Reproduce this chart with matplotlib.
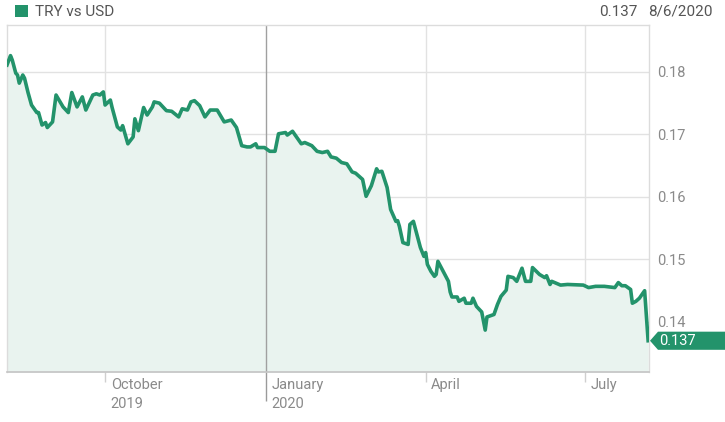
import matplotlib
matplotlib.use("Agg")
import matplotlib.pyplot as plt
import matplotlib.transforms as mtrans
from matplotlib.patches import Rectangle, Polygon
import pandas as pd

# TRY vs USD
dates = [
    "2019-08-06", "2019-08-08", "2019-08-09", "2019-08-11", "2019-08-12", "2019-08-13",
    "2019-08-15", "2019-08-16", "2019-08-18", "2019-08-20", "2019-08-21", "2019-08-23",
    "2019-08-24", "2019-08-26", "2019-08-28", "2019-08-29", "2019-09-01", "2019-09-03",
    "2019-09-07", "2019-09-10", "2019-09-12", "2019-09-15", "2019-09-18", "2019-09-20",
    "2019-09-24", "2019-09-26", "2019-09-28", "2019-09-30", "2019-10-01", "2019-10-04",
    "2019-10-05", "2019-10-08", "2019-10-10", "2019-10-11", "2019-10-14", "2019-10-17",
    "2019-10-18", "2019-10-20", "2019-10-23", "2019-10-25", "2019-10-28", "2019-10-29",
    "2019-11-01", "2019-11-05", "2019-11-08", "2019-11-12", "2019-11-14", "2019-11-17",
    "2019-11-19", "2019-11-21", "2019-11-24", "2019-11-27", "2019-11-30", "2019-12-04",
    "2019-12-08", "2019-12-12", "2019-12-15", "2019-12-18", "2019-12-21", "2019-12-23",
    "2019-12-26", "2019-12-27", "2019-12-31", "2020-01-03", "2020-01-06", "2020-01-08",
    "2020-01-12", "2020-01-13", "2020-01-16", "2020-01-21", "2020-01-23", "2020-01-27",
    "2020-01-30", "2020-02-02", "2020-02-05", "2020-02-07", "2020-02-10", "2020-02-13",
    "2020-02-16", "2020-02-19", "2020-02-21", "2020-02-25", "2020-02-27", "2020-03-01",
    "2020-03-04", "2020-03-05", "2020-03-07", "2020-03-10", "2020-03-12", "2020-03-15",
    "2020-03-16", "2020-03-17", "2020-03-19", "2020-03-22", "2020-03-23", "2020-03-25",
    "2020-03-29", "2020-03-31", "2020-04-01", "2020-04-02", "2020-04-04", "2020-04-06",
    "2020-04-07", "2020-04-08", "2020-04-11", "2020-04-14", "2020-04-15", "2020-04-16",
    "2020-04-19", "2020-04-20", "2020-04-23", "2020-04-24", "2020-04-27", "2020-04-28",
    "2020-04-30", "2020-05-03", "2020-05-05", "2020-05-06", "2020-05-10", "2020-05-12",
    "2020-05-14", "2020-05-17", "2020-05-18", "2020-05-21", "2020-05-23", "2020-05-26",
    "2020-05-28", "2020-05-31", "2020-06-01", "2020-06-05", "2020-06-08", "2020-06-09",
    "2020-06-11", "2020-06-12", "2020-06-17", "2020-06-21", "2020-06-30", "2020-07-03",
    "2020-07-07", "2020-07-12", "2020-07-18", "2020-07-20", "2020-07-22", "2020-07-24",
    "2020-07-27", "2020-07-28", "2020-07-30", "2020-08-01", "2020-08-04", "2020-08-06",
]
rates = [
    0.1811, 0.1826, 0.1819, 0.1798, 0.1795, 0.1782,
    0.1795, 0.1790, 0.1767, 0.1747, 0.1743, 0.1735,
    0.1735, 0.1715, 0.1719, 0.1711, 0.1720, 0.1763,
    0.1744, 0.1735, 0.1767, 0.1744, 0.1760, 0.1739,
    0.1763, 0.1765, 0.1763, 0.1768, 0.1747, 0.1755,
    0.1743, 0.1712, 0.1707, 0.1714, 0.1685, 0.1696,
    0.1725, 0.1706, 0.1743, 0.1731, 0.1744, 0.1752,
    0.1750, 0.1738, 0.1737, 0.1728, 0.1741, 0.1739,
    0.1752, 0.1754, 0.1746, 0.1728, 0.1739, 0.1739,
    0.1720, 0.1723, 0.1711, 0.1682, 0.1680, 0.1680,
    0.1685, 0.1679, 0.1679, 0.1673, 0.1673, 0.1701,
    0.1703, 0.1699, 0.1705, 0.1685, 0.1687, 0.1682,
    0.1673, 0.1671, 0.1673, 0.1664, 0.1662, 0.1655,
    0.1653, 0.1640, 0.1638, 0.1628, 0.1601, 0.1618,
    0.1645, 0.1640, 0.1641, 0.1615, 0.1580, 0.1561,
    0.1562, 0.1553, 0.1527, 0.1524, 0.1556, 0.1561,
    0.1519, 0.1505, 0.1511, 0.1492, 0.1481, 0.1473,
    0.1476, 0.1497, 0.1481, 0.1465, 0.1448, 0.1440,
    0.1440, 0.1433, 0.1438, 0.1430, 0.1430, 0.1438,
    0.1425, 0.1416, 0.1387, 0.1408, 0.1412, 0.1428,
    0.1441, 0.1451, 0.1473, 0.1471, 0.1465, 0.1486,
    0.1465, 0.1465, 0.1487, 0.1476, 0.1471, 0.1474,
    0.1460, 0.1465, 0.1459, 0.1460, 0.1459, 0.1455,
    0.1457, 0.1457, 0.1455, 0.1463, 0.1458, 0.1458,
    0.1452, 0.1430, 0.1433, 0.1438, 0.1450, 0.1370,
]

yticks = [0.14, 0.15, 0.16, 0.17, 0.18]
xtick_dates = ["2019-10-01", "2020-04-01", "2020-07-01"]
xtick_labels = ["October\n2019", "April", "July"]
year_date = "2020-01-01"
year_label = "January\n2020"
last_value = "0.137"
last_date = "8/6/2020"
title = "TRY vs USD"

green = "#23936b"
fill_green = "#e9f3ef"
grid_gray = "#e2e2e2"
text_gray = "#8a8a8a"

plt.rcParams["font.family"] = ["Roboto", "DejaVu Sans"]

x = pd.to_datetime(dates)

fig = plt.figure(figsize=(7.25, 4.22), dpi=100)
W, H = 725, 422
ax = fig.add_axes([7 / W, 50 / H, 642 / W, 347 / H])

ymin, ymax = 0.1320, 0.1875
ax.set_ylim(ymin, ymax)
ax.set_xlim(pd.Timestamp("2019-08-06"), pd.Timestamp("2020-08-06 12:00"))

ax.fill_between(x, rates, ymin, color=fill_green, lw=0, zorder=1)
ax.plot(x, rates, color=green, lw=2.6, solid_joinstyle="round", zorder=3)

# grid
ax.set_yticks(yticks)
ax.set_yticklabels(["%.2f" % v for v in yticks])
ax.yaxis.tick_right()
ax.tick_params(axis="y", length=0, pad=6, labelsize=10.5, labelcolor=text_gray)
for v in yticks:
    ax.axhline(v, color=grid_gray, lw=1, zorder=0)

ax.set_xticks(pd.to_datetime(xtick_dates))
ax.set_xticklabels(xtick_labels)
ax.set_xticks([pd.Timestamp(year_date)], minor=True)
ax.set_xticklabels([year_label], minor=True)
ax.tick_params(axis="x", which="major", length=7, width=1, color="#cfcfcf",
               pad=-3, labelsize=10.5, labelcolor=text_gray)
ax.tick_params(axis="x", which="minor", length=21, width=1, color="#9a9a9a",
               pad=-17, labelsize=10.5, labelcolor=text_gray)
shift = mtrans.ScaledTranslation(4 / 72, 0, fig.dpi_scale_trans)
for lab in ax.get_xticklabels() + ax.get_xticklabels(minor=True):
    lab.set_horizontalalignment("left")
    lab.set_multialignment("left")
    lab.set_verticalalignment("top")
    lab.set_linespacing(1.5)
    lab.set_transform(lab.get_transform() + shift)

for d in xtick_dates:
    ax.axvline(pd.Timestamp(d), color=grid_gray, lw=1, zorder=0)
ax.axvline(pd.Timestamp(year_date), color="#a0a0a0", lw=1, zorder=2)

for side in ["top", "left", "right"]:
    ax.spines[side].set_color("#dcdcdc")
    ax.spines[side].set_linewidth(1)
ax.spines["bottom"].set_color("#c4c4c4")
ax.spines["bottom"].set_linewidth(1.2)

# last price tag on the right
tr = mtrans.blended_transform_factory(fig.transFigure, ax.transData)
v = rates[-1]
h = 0.00145
tag = Polygon([(650 / W, v), (658 / W, v + h), (1.0, v + h), (1.0, v - h), (658 / W, v - h)],
              closed=True, transform=tr, facecolor=green, edgecolor="none", clip_on=False)
fig.add_artist(tag)
fig.text(659 / W, v, last_value, transform=tr, color="white", fontsize=10.5,
         ha="left", va="center")

# header
fig.add_artist(Rectangle((15 / W, 1 - 17 / H), 13 / W, 12 / H, transform=fig.transFigure,
                         facecolor=green, edgecolor="none"))
fig.text(35 / W, 1 - 12 / H, title, color="#555555", fontsize=11, ha="left", va="center")
fig.text(637 / W, 1 - 12 / H, last_value, color="#555555", fontsize=11, ha="right", va="center")
fig.text(713 / W, 1 - 12 / H, last_date, color="#555555", fontsize=11, ha="right", va="center")

fig.savefig("out.png", dpi=100)
